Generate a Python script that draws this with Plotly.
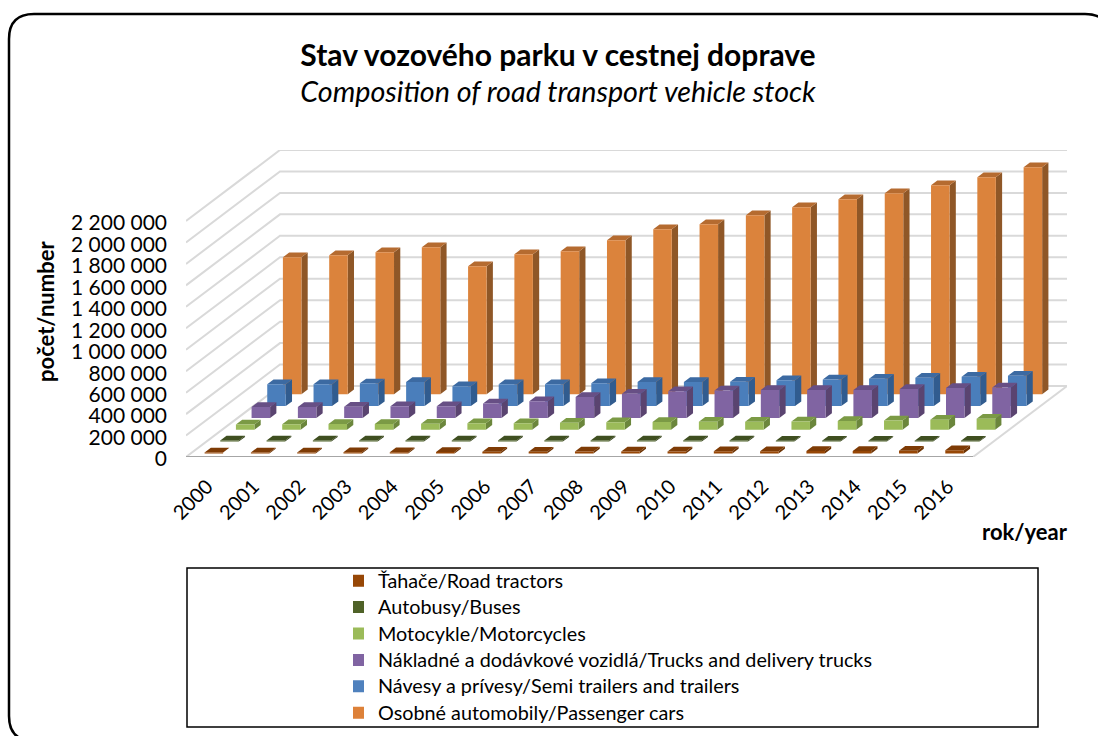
import plotly.graph_objects as go

YEARS = [str(y) for y in range(2000, 2017)]
TRACTORS = [8000, 9000, 10000, 11000, 12000, 13000, 15000, 17000, 18000, 18000, 19000, 20000, 21000, 22000, 24000, 26000, 29000]
BUSES = [10000, 10000, 10000, 10000, 10000, 10000, 10000, 10000, 10000, 10000, 10000, 10000, 9000, 9000, 9000, 9000, 9000]
MOTORCYCLES = [50000, 52000, 54000, 55000, 57000, 60000, 62000, 65000, 70000, 72000, 74000, 76000, 78000, 82000, 86000, 93000, 103000]
TRUCKS = [103000, 103000, 105000, 110000, 110000, 135000, 155000, 195000, 225000, 250000, 255000, 261000, 261000, 261000, 270000, 280000, 283000]
TRAILERS = [205000, 205000, 212000, 224000, 186000, 205000, 205000, 214000, 224000, 224000, 227000, 242000, 249000, 255000, 264000, 273000, 283000]
CARS = [1277000, 1296000, 1324000, 1371000, 1193000, 1305000, 1333000, 1436000, 1538000, 1585000, 1669000, 1744000, 1818000, 1874000, 1949000, 2023000, 2117000]

SERIES_NAMES = [
    "Ťahače/Road tractors", "Autobusy/Buses", "Motocykle/Motorcycles",
    "Nákladné a dodávkové vozidlá/Trucks and delivery trucks",
    "Návesy a prívesy/Semi trailers and trailers", "Osobné automobily/Passenger cars",
]
SERIES_VALUES = [TRACTORS, BUSES, MOTORCYCLES, TRUCKS, TRAILERS, CARS]
LEGEND_COLORS = ["#974706", "#4F6228", "#9BBB59", "#8064A2", "#4F81BD", "#DD8139"]
FRONT_COLORS = ["#974706", "#4F6228", "#9BBB59", "#8064A2", "#4A7EBB", "#DB833C"]
TOP_COLORS = ["#7E3B05", "#3F4F20", "#7B9A45", "#674F85", "#3C6AA2", "#B56B30"]
SIDE_COLORS = ["#6E3404", "#36441C", "#6B863C", "#5A4470", "#315C8F", "#8F5727"]
Y_TICKS = list(range(0, 2200001, 200000))
Y_LABELS = [f"{v:,}".replace(",", " ") for v in Y_TICKS]

FONT = "Lato, Carlito, Calibri, sans-serif"
W, H = 1098, 736
L, T, R, B = 186, 150, 1067, 457

N = len(YEARS)
S = len(SERIES_VALUES)
DX = 94 / 46.3          # depth shift of the chart box, in category units
DY = 2200000 * 71 / 236  # depth shift of the chart box, in value units
BAR = 0.4               # bar share of a slot
GAP = (1 - BAR) / 2


def project(cat, depth, value):
    return cat + DX * depth / S, value + DY * depth / S


fig = go.Figure()

# walls and floor gridlines
gx, gy = [], []
for v in Y_TICKS:
    for p in (project(0, 0, v), project(0, S, v), project(N, S, v)):
        gx.append(p[0]); gy.append(p[1])
    gx.append(None); gy.append(None)
for p in (project(N, 0, 0), project(N, S, 0)):
    gx.append(p[0]); gy.append(p[1])
fig.add_trace(go.Scatter(x=gx, y=gy, mode="lines", line=dict(color="#D9D9D9", width=2),
                         showlegend=False, hoverinfo="skip", cliponaxis=False))


def faces(s, values):
    fr, tp, sd = ([], []), ([], []), ([], [])
    d0, d1 = s + GAP, s + GAP + BAR
    for i, v in enumerate(values):
        c0, c1 = i + GAP, i + GAP + BAR
        for store, poly in (
            (fr, [(c0, d0, 0), (c1, d0, 0), (c1, d0, v), (c0, d0, v)]),
            (tp, [(c0, d0, v), (c1, d0, v), (c1, d1, v), (c0, d1, v)]),
            (sd, [(c1, d0, 0), (c1, d1, 0), (c1, d1, v), (c1, d0, v)]),
        ):
            for c, d, val in poly + poly[:1]:
                x, y = project(c, d, val)
                store[0].append(x); store[1].append(y)
            store[0].append(None); store[1].append(None)
    return fr, tp, sd


for s in range(S - 1, -1, -1):
    fr, tp, sd = faces(s, SERIES_VALUES[s])
    for pts, col in ((sd, SIDE_COLORS[s]), (tp, TOP_COLORS[s]), (fr, FRONT_COLORS[s])):
        fig.add_trace(go.Scatter(x=pts[0], y=pts[1], mode="lines", fill="toself", fillcolor=col,
                                 line=dict(width=0, color=col), showlegend=False,
                                 hoverinfo="skip", name=SERIES_NAMES[s]))

# legend entries
for s in range(S):
    fig.add_trace(go.Scatter(x=[None], y=[None], mode="markers",
                             name=f'<span style="font-size:19.8px">{SERIES_NAMES[s]}</span>',
                             legendgroup=SERIES_NAMES[s],
                             marker=dict(symbol="square", size=12, color=LEGEND_COLORS[s])))

r = 25
bl, bt, br, bb = 9, 14, 1110, 741
def px(x): return (x - L) / (R - L)
def py(y): return (B - y) / (B - T)
border = (f"M {px(bl + r)},{py(bb)} Q {px(bl)},{py(bb)} {px(bl)},{py(bb - r)} L {px(bl)},{py(bt + r)} "
          f"Q {px(bl)},{py(bt)} {px(bl + r)},{py(bt)} L {px(br - r)},{py(bt)} Q {px(br)},{py(bt)} {px(br)},{py(bt + r)}")

fig.update_layout(
    width=W, height=H, autosize=False,
    margin=dict(l=L, r=W - R, t=T, b=H - B, autoexpand=False),
    paper_bgcolor="white", plot_bgcolor="white",
    font=dict(family=FONT, color="#000000"),
    title=dict(
        text='<span style="font-size:30px"><b>Stav vozového parku v cestnej doprave</b></span><br>'
             '<span style="font-size:28.7px"><i>Composition of road transport vehicle stock</i></span>',
        x=558 / W, xanchor="center", y=1 - 66 / H, yanchor="top",
        font=dict(size=28, family=FONT, color="#000000"),
    ),
    xaxis=dict(range=[0, N + DX], tickvals=[i + 0.5 for i in range(N)], ticktext=YEARS,
               tickangle=-45, ticks="", showgrid=False, zeroline=False, showline=False,
               tickfont=dict(size=20), ticklabelstandoff=13, ticklabelshift=-2, fixedrange=True),
    yaxis=dict(range=[0, 2200000 + DY], tickvals=Y_TICKS, ticktext=Y_LABELS, ticks="",
               showgrid=False, zeroline=False, showline=False, tickfont=dict(size=21),
               ticklabelstandoff=18, ticklabelshift=2, fixedrange=True),
    legend=dict(xref="container", yref="container", x=353 / W, y=1 - 562.5 / H,
                xanchor="left", yanchor="top", bgcolor="rgba(0,0,0,0)", borderwidth=0,
                font=dict(size=18, color="#000000", family=FONT), tracegroupgap=0,
                indentation=-15, itemclick=False, itemdoubleclick=False),
    shapes=[
        dict(type="path", xref="paper", yref="paper", path=border, line=dict(color="#000000", width=2.5)),
        dict(type="rect", xref="paper", yref="paper", x0=px(187), x1=px(1038), y0=py(727), y1=py(568),
             line=dict(color="#000000", width=1.5)),
        dict(type="line", xref="x", yref="y", x0=0, x1=N, y0=0, y1=0, line=dict(color="#A6A6A6", width=2)),
    ],
    annotations=[
        dict(text="<b>počet/number</b>", xref="paper", yref="paper", x=px(45), y=py(312), textangle=-90,
             showarrow=False, font=dict(size=22), xanchor="center", yanchor="middle"),
        dict(text="<b>rok/year</b>", xref="paper", yref="paper", x=px(1025), y=py(531),
             showarrow=False, font=dict(size=22), xanchor="center", yanchor="middle"),
    ],
)

fig.write_html("out.html", config={"displayModeBar": False},
               post_script="document.body.style.margin='0';document.body.style.overflow='hidden';")
